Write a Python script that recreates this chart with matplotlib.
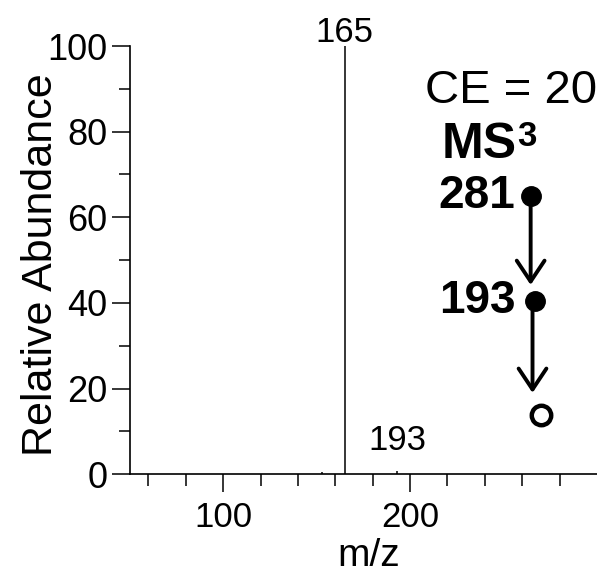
import matplotlib
matplotlib.use("Agg")
import matplotlib.pyplot as plt
from matplotlib.ticker import MultipleLocator, FixedLocator

plt.rcParams['font.family'] = ['Liberation Sans', 'DejaVu Sans']

# Spectrum data (m/z, relative abundance)
mz = [153, 165, 193]
abundance = [0.5, 100, 0.8]
peak_labels = [(165, 101.0, "165"), (193, 5.7, "193")]

# Fragmentation scheme
scheme_ions = ["281", "193"]
scheme_x = [264.5, 267.0]
scheme_y = [65.0, 40.5]
product_x = 270.3
product_y = 13.9

fig = plt.figure(figsize=(5.97, 5.73), dpi=100)
ax = fig.add_axes([0.2173, 0.1723, 0.7827, 0.7474])

ax.vlines(mz, 0, abundance, color='black', linewidth=1.1)

ax.set_xlim(50, 300)
ax.set_ylim(0, 100)

ax.spines['top'].set_visible(False)
ax.spines['right'].set_visible(False)
for s in ['left', 'bottom']:
    ax.spines[s].set_linewidth(1.2)

ax.xaxis.set_major_locator(FixedLocator([100, 200]))
ax.xaxis.set_minor_locator(FixedLocator([60, 80, 120, 140, 160, 180, 220, 240, 260, 280]))
ax.yaxis.set_major_locator(MultipleLocator(20))
ax.yaxis.set_minor_locator(FixedLocator([10, 30, 50, 70, 90]))

ax.tick_params(axis='x', which='major', length=13, width=1.1, direction='out', labelsize=25, pad=6)
ax.tick_params(axis='x', which='minor', length=8.5, width=1.1, direction='out')
ax.tick_params(axis='y', which='major', length=13, width=1.1, direction='out', labelsize=26, pad=3)
ax.tick_params(axis='y', which='minor', length=8, width=1.1, direction='out')

ax.set_xlabel("m/z", fontsize=28)
ax.xaxis.label.set_va('baseline')
ax.xaxis.set_label_coords(0.511, -0.2140)
ax.set_ylabel("Relative Abundance", fontsize=31)
ax.yaxis.label.set_va('baseline')
ax.yaxis.set_label_coords(-0.167, 0.489)

for x, y, t in peak_labels:
    ax.text(x, y, t, ha='center', va='baseline', fontsize=25)

ax.text(300, 89.5, "CE = 20", ha='right', va='center', fontsize=34, clip_on=False)
ax.text(216.7, 73.9, "MS", ha='left', va='baseline', fontsize=36, fontweight='bold')
ax.text(257.2, 76.6, "3", ha='left', va='baseline', fontsize=25, fontweight='bold')

for xi, yi, lab in zip(scheme_x, scheme_y, scheme_ions):
    ax.plot([xi], [yi], 'o', color='black', markersize=14, clip_on=False)
    ax.text(256.4, yi, lab, ha='right', va='center', fontsize=33, fontweight='bold')

ax.plot([product_x], [product_y], 'o', markerfacecolor='white', markeredgecolor='black',
        markersize=14, markeredgewidth=3.2, clip_on=False)

arrow_style = dict(arrowstyle='->,head_length=1.5,head_width=1.0', color='black', lw=2.8,
                   shrinkA=0, shrinkB=0, mutation_scale=10)
ax.annotate("", xy=(scheme_x[0], 44.2), xytext=(scheme_x[0], scheme_y[0]), arrowprops=arrow_style)
ax.annotate("", xy=(265.5, 19.0), xytext=(265.5, 38.3), arrowprops=arrow_style)

fig.savefig("out.png", dpi=100)
